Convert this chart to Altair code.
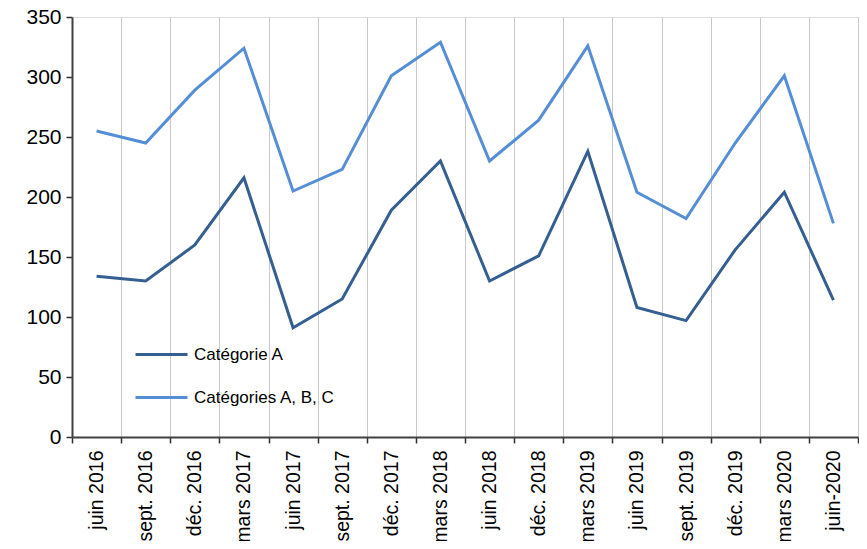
import altair as alt
import pandas as pd

periods = ["juin 2016", "sept. 2016", "déc. 2016", "mars 2017", "juin 2017", "sept. 2017",
           "déc. 2017", "mars 2018", "juin 2018", "déc. 2018", "mars 2019", "juin 2019",
           "sept. 2019", "déc. 2019", "mars 2020", "juin-2020"]
cat_a = [134, 130, 160, 216, 91, 115, 189, 230, 130, 151, 238, 108, 97, 156, 204, 114]
cat_abc = [255, 245, 289, 324, 205, 223, 301, 329, 230, 264, 326, 204, 182, 245, 301, 178]
series_names = ["Catégorie A", "Catégories A, B, C"]
series_colors = ["#355E91", "#558ED5"]

rows = []
for p, a, b in zip(periods, cat_a, cat_abc):
    rows.append({"periode": p, "valeur": a, "serie": series_names[0]})
    rows.append({"periode": p, "valeur": b, "serie": series_names[1]})
df = pd.DataFrame(rows)

FONT = "Liberation Sans"

chart = alt.Chart(df).mark_line(strokeWidth=3).encode(
    x=alt.X("periode:N", sort=periods,
            scale=alt.Scale(type="band", paddingInner=0, paddingOuter=0),
            axis=alt.Axis(title=None, labelAngle=-90, labelAlign="right", labelBaseline="middle",
                          labelFontSize=19.5, labelPadding=7, tickBand="extent", grid=True,
                          gridColor="#C8C8C8", gridWidth=1, tickSize=6, tickColor="#303030",
                          tickWidth=1.5, domainColor="#404040", domainWidth=2,
                          labelColor="#000000", labelFont=FONT)),
    y=alt.Y("valeur:Q",
            scale=alt.Scale(domain=[0, 350], nice=False),
            axis=alt.Axis(title=None, values=[0, 50, 100, 150, 200, 250, 300, 350], grid=False,
                          labelFontSize=21, labelPadding=5, tickSize=6, tickColor="#303030",
                          tickWidth=1.5, domainColor="#404040", domainWidth=2,
                          labelColor="#000000", labelFont=FONT)),
    color=alt.Color("serie:N", sort=series_names,
                    scale=alt.Scale(domain=series_names, range=series_colors),
                    legend=alt.Legend(title=None, orient="none", legendX=62, legendY=310,
                                      direction="vertical", columns=1,
                                      symbolType="stroke", symbolSize=2704, symbolStrokeWidth=3,
                                      labelFontSize=17, labelFont=FONT, labelColor="#000000",
                                      rowPadding=7, labelOffset=5, padding=0)),
).properties(
    width=786, height=420,
    autosize=alt.AutoSizeParams(type="none"),
    padding={"left": 64, "top": 9, "right": 1, "bottom": 104},
).configure_view(
    stroke="#8C8C8C", strokeWidth=2
).configure(font=FONT)

chart.save("out.html", embed_options={"renderer": "svg", "actions": False})
